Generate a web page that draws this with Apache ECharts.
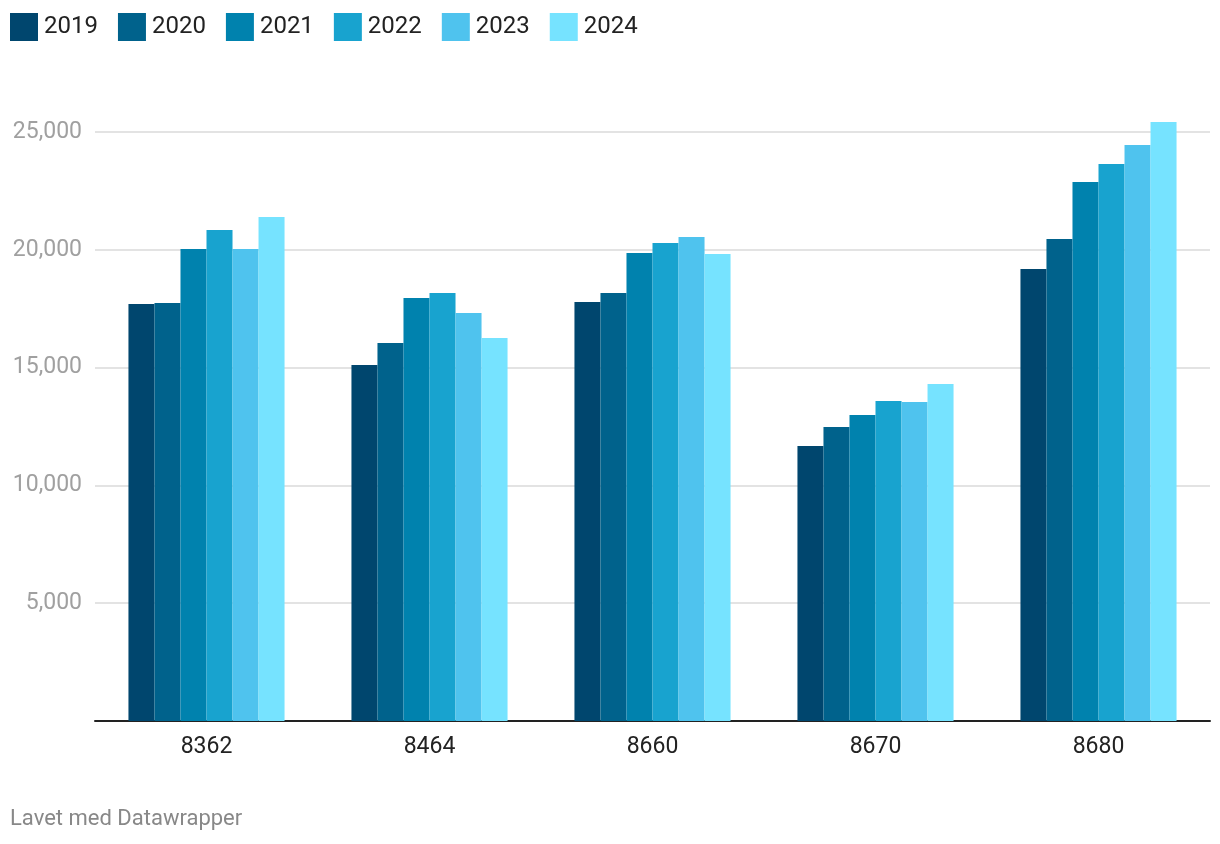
<!DOCTYPE html>
<html>
<head>
<meta charset="utf-8">
<script src="https://cdn.jsdelivr.net/npm/echarts@6/dist/echarts.min.js"></script>
<style>
html,body{margin:0;padding:0;background:#fff;}
#chart{width:1220px;height:844px;}
</style>
</head>
<body>
<div id="chart"></div>
<script>
const categories = ['8362', '8464', '8660', '8670', '8680'];
const years = ['2019', '2020', '2021', '2022', '2023', '2024'];
const v2019 = [17700, 15110, 17780, 11670, 19190];
const v2020 = [17740, 16040, 18170, 12480, 20460];
const v2021 = [20030, 17950, 19860, 12990, 22880];
const v2022 = [20840, 18170, 20290, 13580, 23640];
const v2023 = [20030, 17320, 20540, 13540, 24450];
const v2024 = [21390, 16260, 19820, 14300, 25420];
const yTicks = [0, 5000, 10000, 15000, 20000, 25000];

const seriesValues = [v2019, v2020, v2021, v2022, v2023, v2024];
const colors = ['#00466E', '#00628C', '#0082AE', '#18A3CF', '#4FC3EE', '#76E3FF'];
const font = 'Roboto, "Noto Sans", sans-serif';

const chart = echarts.init(document.getElementById('chart'));
chart.setOption({
  animation: false,
  color: colors,
  textStyle: { fontFamily: font },
  legend: {
    left: 10, top: 13, padding: 0,
    itemWidth: 28, itemHeight: 28,
    itemGap: 20,
    icon: 'rect',
    textStyle: { fontSize: 24, color: '#222', fontFamily: font, padding: [0, 0, 0, 1] },
    data: years
  },
  grid: { left: 95, right: 10, top: 132, bottom: 123, containLabel: false },
  xAxis: {
    type: 'category',
    data: categories,
    axisLine: { show: true, lineStyle: { color: '#222', width: 2 } },
    axisTick: { show: false },
    axisLabel: { fontSize: 23, color: '#222', margin: 15, fontFamily: font }
  },
  yAxis: {
    type: 'value',
    min: 0, max: yTicks[yTicks.length - 1], interval: 5000,
    axisLine: { show: false },
    axisTick: { show: false },
    splitLine: { lineStyle: { color: '#e3e3e3', width: 2 } },
    axisLabel: {
      fontSize: 23, color: '#a0a0a0', margin: 13, fontFamily: font,
      formatter: v => v === 0 ? '' : v.toLocaleString('en-US')
    }
  },
  series: years.map((y, i) => ({
    name: y,
    type: 'bar',
    data: seriesValues[i],
    barGap: '0%',
    barCategoryGap: '30%',
    clip: false,
    itemStyle: { color: colors[i] }
  })),
  graphic: [{
    type: 'text', left: 10, top: 808,
    style: { text: 'Lavet med Datawrapper', fill: '#888', fontSize: 22, fontFamily: font }
  }]
});
</script>
</body>
</html>
